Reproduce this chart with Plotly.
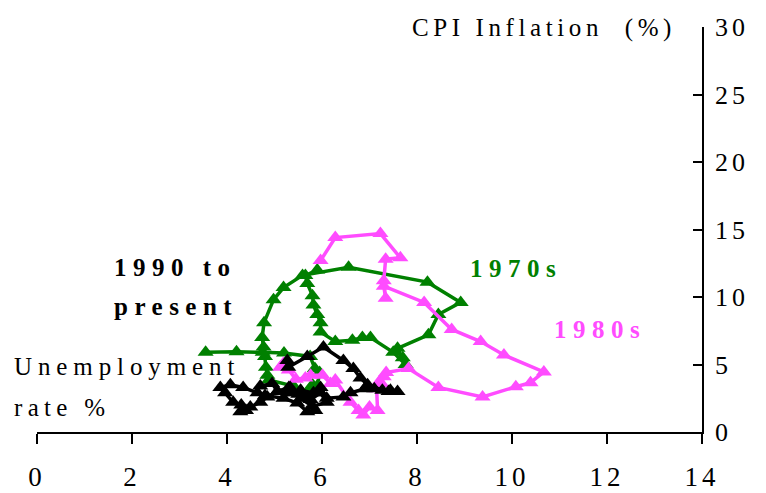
import plotly.graph_objects as go

# ---- data ----
# 1970s series: unemployment rate (%) and CPI inflation (%)
u_1970s = [3.55, 4.2, 4.75, 5.2, 5.75, 5.85, 5.95, 5.9, 5.8, 5.7, 5.55, 5.4, 4.88,
           4.85, 4.82, 4.8, 4.77, 4.74, 4.78, 4.98, 5.19, 5.59, 6.56, 8.22, 8.92,
           8.45, 8.24, 7.59, 7.7, 7.76, 7.5, 7.02, 6.85, 6.64, 6.28, 5.97, 5.97,
           5.9, 5.82, 5.8, 5.69, 5.65, 5.9]
cpi_1970s = [5.9, 5.95, 5.9, 5.85, 5.6, 4.7, 4.4, 3.4, 3.5, 3.0, 3.05, 3.4, 3.85,
             4.2, 4.8, 5.6, 6.3, 7.0, 8.1, 9.8, 10.7, 11.6, 12.2, 11.1, 9.6,
             8.7, 7.2, 6.2, 5.5, 5.0, 5.9, 7.0, 7.0, 6.8, 6.7, 7.4, 8.1,
             8.7, 9.4, 10.1, 11.0, 11.6, 12.0]

# 1980s series
u_1980s = [5.97, 6.28, 7.23, 7.65, 7.34, 7.3, 7.34, 7.3, 8.15, 8.73, 9.34, 9.83,
           10.67, 10.39, 10.08, 9.38, 8.45, 7.82, 7.35, 7.3, 7.25, 7.2, 7.15, 7.17,
           7.0, 6.87, 6.77, 6.6, 6.28, 6.18, 6.01, 5.76, 5.65, 5.45, 5.3, 5.19, 5.12]
cpi_1980s = [12.7, 14.4, 14.7, 12.9, 12.8, 11.2, 9.9, 10.8, 9.6, 7.6, 6.7, 5.7,
             4.45, 3.65, 3.35, 2.6, 3.3, 4.7, 4.4, 4.1, 3.6, 3.7, 3.2, 1.6,
             1.85, 1.26, 1.6, 2.2, 3.85, 3.6, 4.2, 4.2, 4.0, 3.9, 4.6, 5.1, 4.8]

# 1990 to present series
u_1990s = [5.27, 5.29, 5.69, 6.03, 6.45, 6.66, 6.81, 6.96, 7.27, 7.44, 7.59, 7.4,
           7.1, 6.9, 6.6, 6.45, 6.1, 5.97, 5.82, 5.55, 5.7, 5.6, 5.5, 5.33, 5.3,
           5.06, 4.85, 4.7, 4.49, 4.4, 4.28, 4.3, 4.13, 3.96, 3.86, 4.07, 4.34,
           4.64, 4.8, 5.19, 5.48, 5.69, 5.86, 5.76, 5.97, 6.1, 5.8, 5.55, 5.4,
           5.3, 5.06, 4.95, 4.7]
cpi_1990s = [5.3, 4.8, 5.6, 6.3, 5.3, 4.7, 4.0, 3.5, 3.1, 3.1, 3.0, 3.0,
             3.2, 3.2, 2.9, 2.6, 2.5, 3.3, 2.9, 3.1, 2.6, 2.6, 2.8, 3.3, 2.9,
             3.0, 2.6, 2.2, 1.85, 1.6, 1.5, 2.0, 2.2, 2.9, 3.3, 3.5, 3.3,
             2.9, 2.7, 2.5, 2.15, 1.5, 1.6, 2.4, 2.9, 2.2, 1.9, 2.5, 2.9,
             3.3, 3.0, 3.6, 3.4]

x_ticks = [0, 2, 4, 6, 8, 10, 12, 14]
y_ticks = [0, 5, 10, 15, 20, 25, 30]

GREEN = "#008000"
MAGENTA = "#FF4CFF"
BLACK = "#000000"
FONT = "Liberation Serif"

fig = go.Figure()
for xs, ys, col in [(u_1970s, cpi_1970s, GREEN),
                    (u_1980s, cpi_1980s, MAGENTA),
                    (u_1990s, cpi_1990s, BLACK)]:
    fig.add_trace(go.Scatter(
        x=xs, y=ys, mode="lines+markers",
        line=dict(color=col, width=3.5),
        marker=dict(symbol="triangle-up", size=14, color=col),
        showlegend=False, cliponaxis=False,
    ))

# annotation positions in paper fractions (plot area 37..702 px wide, 27..432 px tall)
annots = [
    dict(text="CPI Inflation  (%)", x=0.5609, y=0.9975, bold=False, color=BLACK),
    dict(text="1970s", x=0.6481, y=0.4049, bold=True, color=GREEN),
    dict(text="1980s", x=0.7744, y=0.2519, bold=True, color=MAGENTA),
    dict(text="1990 to", x=0.1128, y=0.4074, bold=True, color=BLACK),
    dict(text="present", x=0.1128, y=0.3111, bold=True, color=BLACK),
    dict(text="Unemployment", x=-0.0376, y=0.1605, bold=False, color=BLACK),
    dict(text="rate %", x=-0.0376, y=0.0593, bold=False, color=BLACK),
]
for a in annots:
    fig.add_annotation(
        x=a["x"], y=a["y"], xref="paper", yref="paper", text=a["text"],
        showarrow=False, xanchor="left", yanchor="middle",
        font=dict(family=FONT, size=25, color=a["color"],
                  weight="bold" if a["bold"] else "normal"),
    )

fig.update_layout(
    width=766, height=493,
    margin=dict(l=37, r=64, t=27, b=61, autoexpand=False),
    paper_bgcolor="white", plot_bgcolor="white",
    font=dict(family=FONT, size=25, color="black"),
)
fig.update_xaxes(
    range=[0, 14], tickvals=x_ticks, ticktext=[str(v) for v in x_ticks],
    showgrid=False, zeroline=False, showline=True, linecolor="black", linewidth=1.5,
    ticks="outside", ticklen=10, tickwidth=1.5, tickcolor="black",
    tickfont=dict(family=FONT, size=27), ticklabelstandoff=10, automargin=False,
)
fig.update_yaxes(
    range=[0, 30], tickvals=y_ticks, ticktext=[str(v) for v in y_ticks],
    side="right", showgrid=False, zeroline=False, showline=True,
    linecolor="black", linewidth=1.5,
    ticks="inside", ticklen=9, tickwidth=1.5, tickcolor="black",
    tickfont=dict(family=FONT, size=26), ticklabelstandoff=6, automargin=False,
)

post = """
document.body.style.margin = '0';
document.body.style.overflow = 'hidden';
var gd = document.getElementById('{plot_id}');
var special = {'CPI Inflation  (%)': '4.6px', 'Unemployment': '5.9px'};
function spaceText(){
  gd.querySelectorAll('.annotation-text').forEach(function(e){
    var b0 = e.getBBox();
    var bold = (e.style.fontWeight === 'bold' || e.style.fontWeight === '700');
    var t = e.textContent;
    var ls = special[t] || (bold ? '6.5px' : '5.3px');
    e.style.letterSpacing = ls;
    var b1 = e.getBBox();
    e.setAttribute('transform', 'translate(' + (b0.x - b1.x) + ',0)');
  });
  gd.querySelectorAll('.xtick text, .ytick text').forEach(function(e){ e.style.letterSpacing='4px'; });
}
spaceText();
"""

fig.write_html("out.html", post_script=post, config={"displayModeBar": False})
